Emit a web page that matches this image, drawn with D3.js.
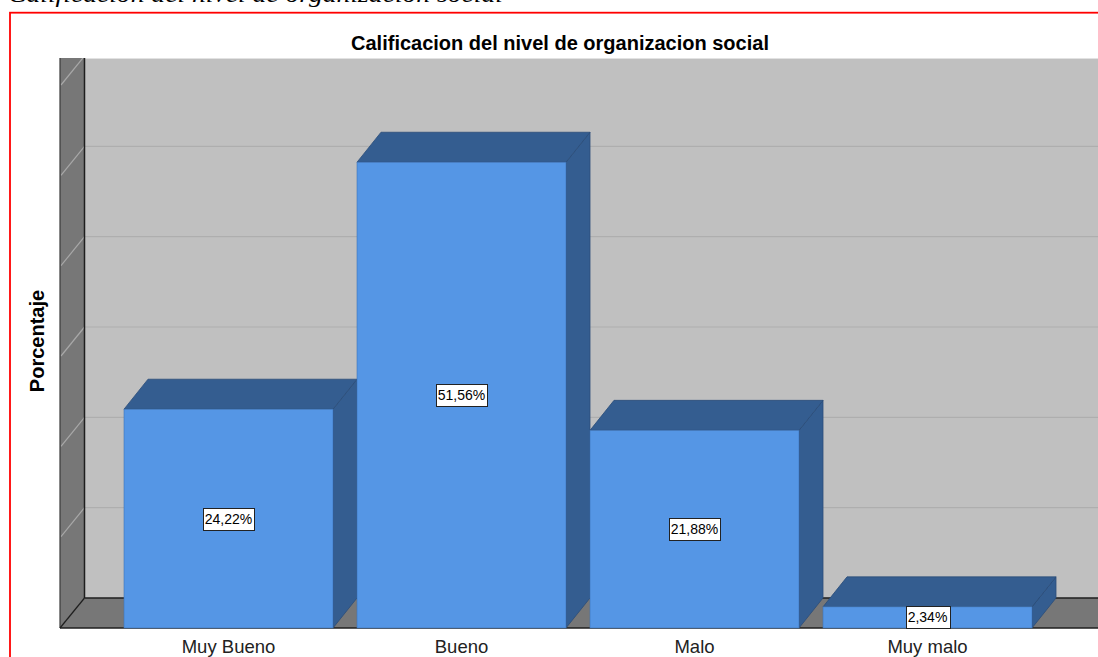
<!DOCTYPE html>
<html>
<head>
<meta charset="utf-8">
<script src="https://cdn.jsdelivr.net/npm/d3@7"></script>
<style>
  html, body { margin: 0; padding: 0; background: #fff; overflow: hidden; }
  svg { display: block; }
</style>
</head>
<body>
<svg id="chart" width="1098" height="657"></svg>
<script>
// ---- data ----
const categories = ["Muy Bueno", "Bueno", "Malo", "Muy malo"];
const percentages = [24.22, 51.56, 21.88, 2.34];
const valueLabels = ["24,22%", "51,56%", "21,88%", "2,34%"];
const gridTicks = [10, 20, 30, 40, 50, 60];
const chartTitle = "Calificacion del nivel de organizacion social";
const yAxisTitle = "Porcentaje";
const captionText = "Calificación del nivel de organización social";

// ---- layout ----
const W = 1098, H = 657;
const dx = 24, dy = 30;            // 3D depth offset
const wallFrontX = 60, wallBackX = 84.5;
const wallTop = 58;
const floorFront = 628, floorBack = floorFront - dy;

const svg = d3.select("#chart");

const x = d3.scaleBand()
  .domain(categories)
  .range([112, 1044])
  .paddingInner(24 / 233)
  .paddingOuter(12 / 233);

const y = d3.scaleLinear()
  .domain([0, 60])
  .range([floorFront, floorFront - 542]);

// caption (partially cut at top)
svg.append("text")
  .attr("x", 8).attr("y", 2)
  .attr("font-family", "Liberation Serif, Times New Roman, serif")
  .attr("font-style", "italic")
  .attr("font-size", 24)
  .attr("textLength", 495)
  .attr("lengthAdjust", "spacingAndGlyphs")
  .attr("fill", "#000")
  .text(captionText);

// red frame
svg.append("rect")
  .attr("x", 10).attr("y", 12.7)
  .attr("width", 1200).attr("height", 800)
  .attr("fill", "none")
  .attr("stroke", "#ff0000")
  .attr("stroke-width", 1.8);

// clip for walls
const defs = svg.append("defs");
defs.append("clipPath").attr("id", "wallclip")
  .append("rect").attr("x", 0).attr("y", wallTop).attr("width", W).attr("height", H);

const walls = svg.append("g").attr("clip-path", "url(#wallclip)");

// back wall
walls.append("rect")
  .attr("x", wallBackX).attr("y", wallTop)
  .attr("width", W - wallBackX + 10).attr("height", floorBack - wallTop)
  .attr("fill", "#c0c0c0");
walls.append("line")
  .attr("x1", wallBackX).attr("x2", W + 10)
  .attr("y1", wallTop + 0.5).attr("y2", wallTop + 0.5)
  .attr("stroke", "#e2e2e2").attr("stroke-width", 1);

// side wall
walls.append("polygon")
  .attr("points", [[wallFrontX, wallTop], [wallBackX, wallTop], [wallBackX, floorBack], [wallFrontX, floorFront]].map(p => p.join(",")).join(" "))
  .attr("fill", "#777777");

// floor
walls.append("polygon")
  .attr("points", [[wallBackX, floorBack], [W + 10, floorBack], [W + 10, floorFront], [wallFrontX, floorFront]].map(p => p.join(",")).join(" "))
  .attr("fill", "#777777");

// gridlines
gridTicks.forEach(t => {
  const yb = y(t) - dy;
  walls.append("line")
    .attr("x1", wallBackX).attr("x2", W + 10)
    .attr("y1", yb).attr("y2", yb)
    .attr("stroke", "#aeaeae").attr("stroke-width", 1.2);
  walls.append("line")
    .attr("x1", wallBackX).attr("y1", yb)
    .attr("x2", wallFrontX + 1).attr("y2", yb + dy - 1)
    .attr("stroke", "#a8a8a8").attr("stroke-width", 1.2);
});

// edges
const edge = (x1, y1, x2, y2, c, w) => walls.append("line")
  .attr("x1", x1).attr("y1", y1).attr("x2", x2).attr("y2", y2)
  .attr("stroke", c).attr("stroke-width", w);
edge(wallBackX, wallTop, wallBackX, floorBack, "#1e1e1e", 1.5);
edge(wallFrontX, wallTop, wallFrontX, floorFront, "#3a3a3a", 1.2);
edge(wallBackX, floorBack, W + 10, floorBack, "#1e1e1e", 1.5);
edge(wallBackX, floorBack, wallFrontX, floorFront, "#1e1e1e", 1.2);
edge(wallFrontX, floorFront, W + 10, floorFront, "#1e1e1e", 1.5);

// bars
const frontColor = "#5596e5", darkColor = "#345d90", edgeColor = "#2b4c78";
const bars = svg.append("g");
categories.forEach((c, i) => {
  const x0 = x(c), x1 = x0 + x.bandwidth();
  const yt = y(percentages[i]), yb = y(0);
  const g = bars.append("g");
  // side face
  g.append("polygon")
    .attr("points", [[x1, yt], [x1 + dx, yt - dy], [x1 + dx, yb - dy], [x1, yb]].map(p => p.join(",")).join(" "))
    .attr("fill", darkColor).attr("stroke", edgeColor).attr("stroke-width", 0.8);
  // top face
  g.append("polygon")
    .attr("points", [[x0, yt], [x0 + dx, yt - dy], [x1 + dx, yt - dy], [x1, yt]].map(p => p.join(",")).join(" "))
    .attr("fill", darkColor).attr("stroke", edgeColor).attr("stroke-width", 0.8);
  // front face
  g.append("rect")
    .attr("x", x0).attr("y", yt)
    .attr("width", x.bandwidth()).attr("height", yb - yt)
    .attr("fill", frontColor).attr("stroke", "#3f74b5").attr("stroke-width", 0.6);
});

// value labels
const labels = svg.append("g")
  .attr("font-family", "Liberation Sans, Arial, sans-serif")
  .attr("font-size", 14);
categories.forEach((c, i) => {
  const cx = x(c) + x.bandwidth() / 2;
  const cy = (y(percentages[i]) + y(0)) / 2;
  const t = labels.append("text")
    .attr("x", cx).attr("y", cy + 5)
    .attr("text-anchor", "middle")
    .attr("fill", "#000")
    .text(valueLabels[i]);
  const bb = t.node().getBBox();
  labels.insert("rect", "text")
    .attr("x", Math.round(cx - bb.width / 2 - 2) + 0.5)
    .attr("y", Math.round(cy - 11) + 0.5)
    .attr("width", Math.round(bb.width + 4))
    .attr("height", 22)
    .attr("fill", "#fff")
    .attr("stroke", "#222").attr("stroke-width", 1);
});

// category axis labels
svg.append("g")
  .selectAll("text")
  .data(categories)
  .join("text")
  .attr("x", d => x(d) + x.bandwidth() / 2)
  .attr("y", 653)
  .attr("text-anchor", "middle")
  .attr("font-family", "Liberation Sans, Arial, sans-serif")
  .attr("font-size", 18.5)
  .attr("fill", "#222")
  .text(d => d);

// title
svg.append("text")
  .attr("x", 560).attr("y", 50)
  .attr("text-anchor", "middle")
  .attr("font-family", "Liberation Sans, Arial, sans-serif")
  .attr("font-weight", "bold")
  .attr("font-size", 20)
  .attr("fill", "#000")
  .text(chartTitle);

// y axis title
svg.append("text")
  .attr("transform", "translate(44,341) rotate(-90)")
  .attr("text-anchor", "middle")
  .attr("font-family", "Liberation Sans, Arial, sans-serif")
  .attr("font-weight", "bold")
  .attr("font-size", 20)
  .attr("fill", "#000")
  .text(yAxisTitle);
</script>
</body>
</html>
